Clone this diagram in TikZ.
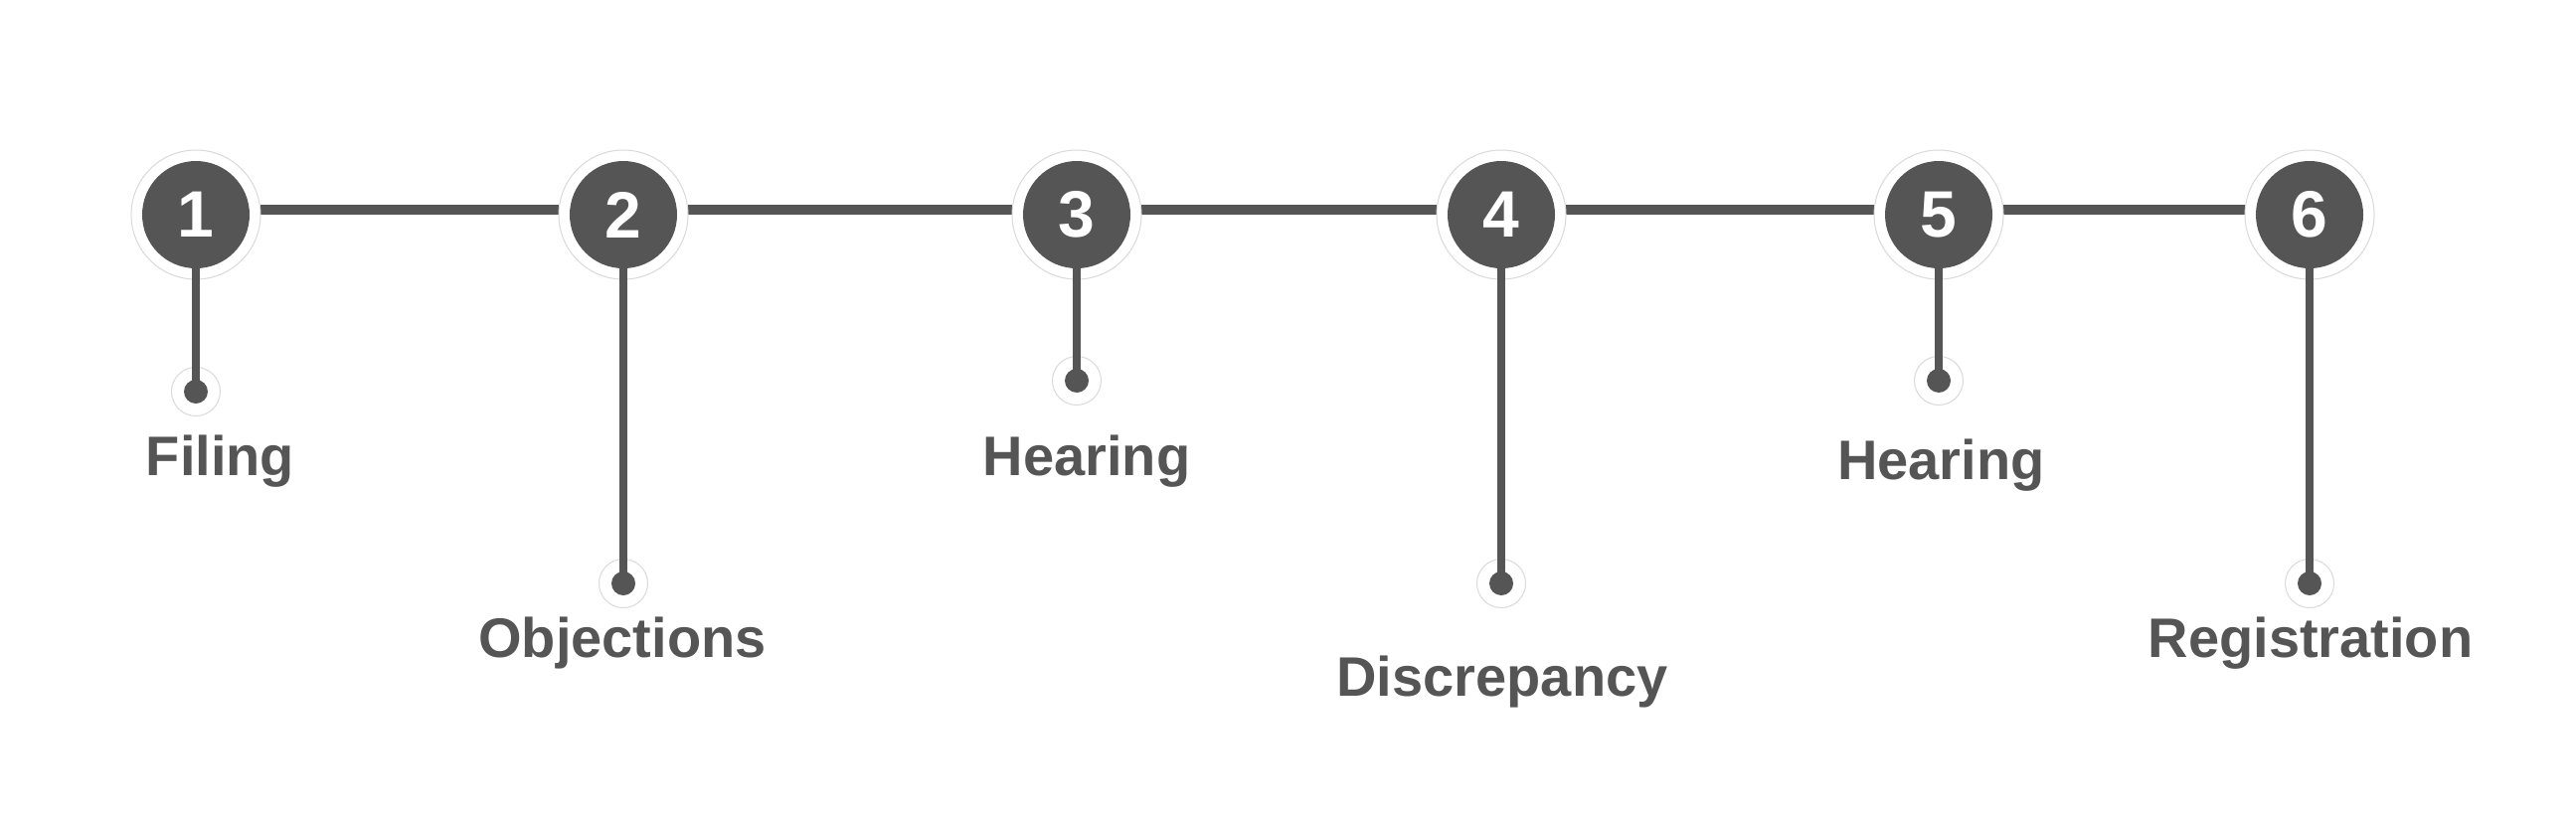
\documentclass[tikz,border=0pt]{standalone}
\usepackage{fontspec}
\setmainfont{Liberation Sans}
\usetikzlibrary{backgrounds}
\pgfdeclarelayer{bottom}
\pgfsetlayers{bottom,background,main}
\definecolor{dk}{HTML}{555555}
\definecolor{halo}{HTML}{DADADA}
\tikzset{
  halobig/.style={circle, fill=white, draw=halo, line width=0.5pt, minimum size=65pt, inner sep=0pt},
  stepdot/.style={circle, fill=dk, minimum size=54pt, inner sep=0pt, text=white, font=\bfseries\fontsize{33}{33}\selectfont},
  halosmall/.style={circle, fill=white, draw=halo, line width=0.5pt, minimum size=24.5pt, inner sep=0pt},
  enddot/.style={circle, fill=dk, minimum size=12pt, inner sep=0pt},
  lbl/.style={anchor=base, text=dk, font=\bfseries\fontsize{28}{28}\selectfont, inner sep=0pt},
  hline/.style={draw=dk, line width=5.25pt},
  vline/.style={draw=dk, line width=4.25pt}
}
\begin{document}
\begin{tikzpicture}[x=0.5pt,y=-0.5pt]
\begin{pgfonlayer}{bottom}
\path[fill=white] (0,0) rectangle (2591,819);
\end{pgfonlayer}
\useasboundingbox (0,0) rectangle (2591,819);
% halos
\foreach \n/\x in {1/197,2/627,3/1083,4/1510,5/1950,6/2323}{
  \node[halobig] (h\n) at (\x,216) {};
}
\foreach \n/\x/\y in {1/197/394,2/627/587,3/1083/383,4/1510/587,5/1950/383,6/2323/587}{
  \node[halosmall] (g\n) at (\x,\y) {};
}
% horizontal connector behind the halos
\begin{pgfonlayer}{background}
  \draw[hline] ([yshift=2.5pt]h1.center) -- ([yshift=2.5pt]h6.center);
\end{pgfonlayer}
% vertical connectors over the halos
\foreach \n in {1,...,6}{
  \draw[vline] (h\n.center) -- (g\n.center);
}
% dots and step circles
\foreach \n/\x/\y in {1/197/394,2/627/587,3/1083/383,4/1510/587,5/1950/383,6/2323/587}{
  \node[enddot] (d\n) at (\x,\y) {};
}
\foreach \n/\x in {1/197,2/627,3/1083,4/1510,5/1950,6/2323}{
  \node[stepdot] (s\n) at (\x,216) {\n};
}
% labels
\node[lbl] (l1) at (221.5,478) {Filing};
\node[lbl] (l2) at (626,661.5) {Objections};
\node[lbl] (l3) at (1093,478) {Hearing};
\node[lbl] (l4) at (1511,700) {Discrepancy};
\node[lbl] (l5) at (1952.5,482) {Hearing};
\node[lbl] (l6) at (2324,661.5) {Registration};
\end{tikzpicture}
\end{document}
